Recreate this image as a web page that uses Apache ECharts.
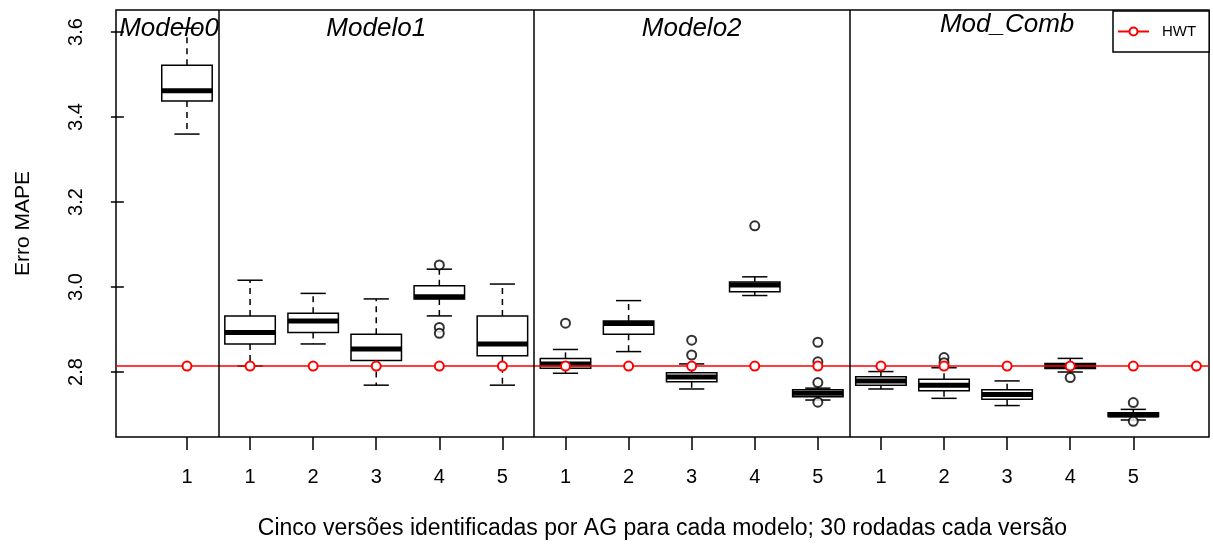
<!DOCTYPE html>
<html>
<head>
<meta charset="utf-8">
<script src="https://cdn.jsdelivr.net/npm/echarts@6/dist/echarts.min.js"></script>
<style>
  html, body { margin: 0; padding: 0; background: #fff; }
  #chart { width: 1213px; height: 549px; }
</style>
</head>
<body>
<div id="chart"></div>
<script>
// Tick labels under each box: Modelo0 has one version, the others five each
const versionLabels = ['1', '1', '2', '3', '4', '5', '1', '2', '3', '4', '5', '1', '2', '3', '4', '5'];

// Box statistics (MAPE) for each of the 16 boxes, in plotting order
const lowWhisker  = [3.360, 2.814, 2.866, 2.769, 2.932, 2.769, 2.797, 2.848, 2.760, 2.980, 2.734, 2.760, 2.738, 2.721, 2.800, 2.687];
const lowerQuart  = [3.438, 2.866, 2.893, 2.827, 2.972, 2.838, 2.809, 2.889, 2.777, 2.989, 2.742, 2.769, 2.756, 2.736, 2.808, 2.695];
const medians     = [3.462, 2.893, 2.920, 2.854, 2.977, 2.866, 2.819, 2.914, 2.788, 3.005, 2.750, 2.779, 2.769, 2.747, 2.814, 2.699];
const upperQuart  = [3.522, 2.932, 2.938, 2.889, 3.003, 2.932, 2.832, 2.920, 2.798, 3.012, 2.758, 2.789, 2.783, 2.758, 2.820, 2.704];
const highWhisker = [3.609, 3.016, 2.985, 2.972, 3.042, 3.007, 2.853, 2.968, 2.819, 3.024, 2.762, 2.801, 2.810, 2.779, 2.832, 2.712];

// Outliers: [box number, MAPE]
const outliers = [
  [5, 3.052], [5, 2.905], [5, 2.891],
  [7, 2.915],
  [9, 2.875], [9, 2.840],
  [10, 3.144],
  [11, 2.870], [11, 2.824], [11, 2.775], [11, 2.729],
  [13, 2.834], [13, 2.822],
  [15, 2.787],
  [16, 2.728], [16, 2.684]
];

// HWT reference error, marked at every version slot
const hwtValue = 2.814;
const hwtPositions = [1, 2, 3, 4, 5, 6, 7, 8, 9, 10, 11, 12, 13, 14, 15, 16, 17];

// Panel separators and panel titles
const separators = [1.5, 6.5, 11.5];
const panelTitles = ['Modelo0', 'Modelo1', 'Modelo2', 'Mod_Comb'];
const panelTitleX = [0.715, 4, 9, 14];
const panelTitleY = [3.609, 3.609, 3.609, 3.617];

const yTicks = [2.8, 3.0, 3.2, 3.4, 3.6];

// Axis ranges
const xMin = -0.125, xMax = 17.2;
const yMin = 2.647, yMax = 3.652;

const FONT = '"Liberation Sans", Arial, sans-serif';

const boxData = versionLabels.map((_, i) => [
  i + 1, lowWhisker[i], lowerQuart[i], medians[i], upperQuart[i], highWhisker[i]
]);
const tickPositions = versionLabels.map((_, i) => i + 1);
const titleData = panelTitles.map((t, i) => [panelTitleX[i], panelTitleY[i], t]);

// HWT line runs across the whole panel; circles only at the version slots
const hwtData = [{ value: [xMin, hwtValue], symbol: 'none' }]
  .concat(hwtPositions.map(p => [p, hwtValue]))
  .concat([{ value: [xMax, hwtValue], symbol: 'none' }]);

function renderBox(params, api) {
  const x = api.value(0);
  const pLow = api.coord([x, api.value(1)]);
  const pQ1 = api.coord([x, api.value(2)]);
  const pMed = api.coord([x, api.value(3)]);
  const pQ3 = api.coord([x, api.value(4)]);
  const pHigh = api.coord([x, api.value(5)]);
  const boxW = api.size([0.8, 0])[0];
  const cx = pMed[0];
  const hw = boxW / 2;
  const cw = boxW / 4;
  const solid = { stroke: '#000', lineWidth: 1.5 };
  const dashed = { stroke: '#000', lineWidth: 1.5, lineDash: [6, 5] };
  return {
    type: 'group',
    children: [
      { type: 'line', shape: { x1: cx, y1: pQ3[1], x2: cx, y2: pHigh[1] }, style: dashed },
      { type: 'line', shape: { x1: cx, y1: pQ1[1], x2: cx, y2: pLow[1] }, style: dashed },
      { type: 'line', shape: { x1: cx - cw, y1: pHigh[1], x2: cx + cw, y2: pHigh[1] }, style: solid },
      { type: 'line', shape: { x1: cx - cw, y1: pLow[1], x2: cx + cw, y2: pLow[1] }, style: solid },
      { type: 'rect', shape: { x: cx - hw, y: pQ3[1], width: boxW, height: pQ1[1] - pQ3[1] },
        style: { fill: '#fff', stroke: '#000', lineWidth: 1.5 } },
      { type: 'line', shape: { x1: cx - hw, y1: pMed[1], x2: cx + hw, y2: pMed[1] },
        style: { stroke: '#000', lineWidth: 5 } }
    ]
  };
}

function renderTitle(params, api) {
  const p = api.coord([api.value(0), api.value(1)]);
  return {
    type: 'text',
    style: {
      text: panelTitles[params.dataIndex],
      x: p[0], y: p[1],
      align: 'center', verticalAlign: 'middle',
      font: 'italic 26px ' + FONT,
      fill: '#000'
    }
  };
}

const chart = echarts.init(document.getElementById('chart'), null, { renderer: 'canvas' });

chart.setOption({
  backgroundColor: '#fff',
  animation: false,
  grid: {
    left: 116, right: 4, top: 10, bottom: 112,
    show: true, borderColor: '#000', borderWidth: 1.5, backgroundColor: 'transparent'
  },
  legend: {
    data: ['HWT'],
    left: 1113, top: 11,
    orient: 'horizontal',
    padding: [13, 13, 13, 4],
    itemWidth: 31, itemHeight: 10,
    borderColor: '#000', borderWidth: 1.5,
    backgroundColor: '#fff',
    textStyle: { fontFamily: FONT, fontSize: 15, color: '#000', padding: [0, 0, 0, 8] }
  },
  xAxis: {
    type: 'value',
    min: xMin, max: xMax,
    name: 'Cinco versões identificadas por AG para cada modelo; 30 rodadas cada versão',
    nameLocation: 'middle', nameGap: 80,
    nameTextStyle: { fontFamily: FONT, fontSize: 23, color: '#000' },
    axisLine: { show: false },
    splitLine: { show: false },
    axisTick: { show: true, customValues: tickPositions, length: 13, lineStyle: { color: '#000', width: 1.5 } },
    axisLabel: {
      customValues: tickPositions,
      formatter: v => versionLabels[Math.round(v) - 1] || '',
      margin: 30, fontFamily: FONT, fontSize: 20, color: '#000'
    }
  },
  yAxis: {
    type: 'value',
    min: yMin, max: yMax,
    name: 'Erro MAPE',
    nameLocation: 'middle', nameGap: 82,
    nameTextStyle: { fontFamily: FONT, fontSize: 21, color: '#000' },
    axisLine: { show: false },
    splitLine: { show: false },
    axisTick: { show: true, customValues: yTicks, length: 13, lineStyle: { color: '#000', width: 1.5 } },
    axisLabel: {
      customValues: yTicks,
      formatter: v => v.toFixed(1),
      rotate: 90, margin: 30,
      fontFamily: FONT, fontSize: 20, color: '#000'
    }
  },
  series: [
    {
      name: 'boxes',
      type: 'custom',
      renderItem: renderBox,
      data: boxData,
      encode: { x: 0, y: [1, 2, 3, 4, 5] },
      z: 2,
      silent: true,
      markLine: {
        silent: true,
        symbol: 'none',
        label: { show: false },
        lineStyle: { color: '#000', type: 'solid', width: 1.5 },
        data: separators.map(s => ({ xAxis: s }))
      }
    },
    {
      name: 'outliers',
      type: 'scatter',
      data: outliers,
      symbol: 'emptyCircle',
      symbolSize: 9,
      itemStyle: { color: '#000', borderColor: '#000', borderWidth: 1.5 },
      z: 3,
      silent: true
    },
    {
      name: 'HWT',
      type: 'line',
      data: hwtData,
      symbol: 'emptyCircle',
      symbolSize: 9,
      showAllSymbol: true,
      color: '#ff0000',
      lineStyle: { color: '#ff0000', width: 1.5 },
      itemStyle: { color: '#ff0000', borderColor: '#ff0000', borderWidth: 1.5 },
      z: 4,
      silent: true
    },
    {
      name: 'titles',
      type: 'custom',
      renderItem: renderTitle,
      data: titleData,
      z: 5,
      silent: true
    }
  ]
});
</script>
</body>
</html>
